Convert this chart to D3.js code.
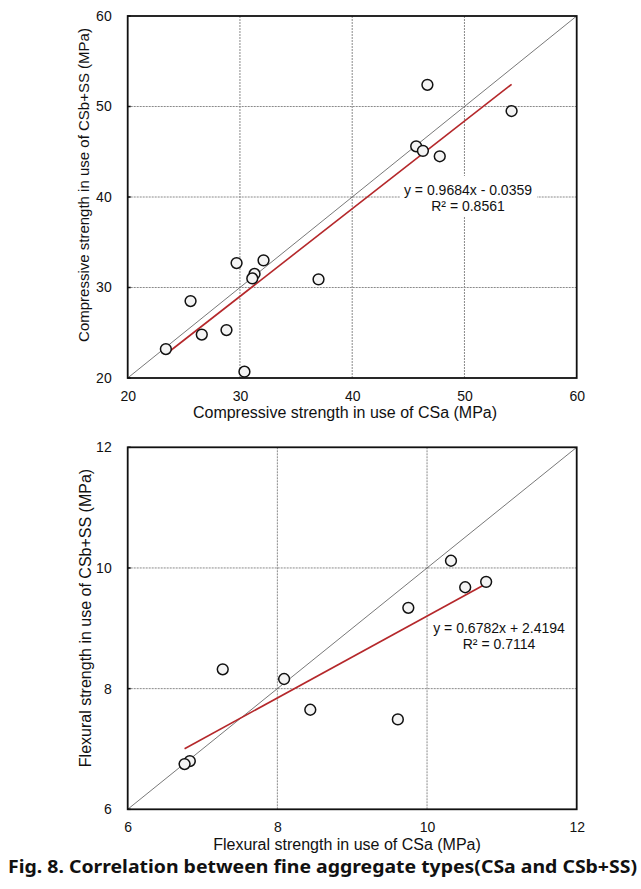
<!DOCTYPE html>
<html>
<head>
<meta charset="utf-8">
<script src="https://cdn.jsdelivr.net/npm/d3@7"></script>
<style>
  html, body { margin: 0; padding: 0; background: #fff; }
  svg text { fill: #111; }
</style>
</head>
<body>
<svg id="chart" width="641" height="889"></svg>
<script>
// ---- Data: compressive strength (MPa) ----
const compCSa    = [46.7, 54.2, 45.7, 46.3, 47.8, 29.7, 32.1, 31.3, 31.1, 37.0, 25.6, 28.8, 26.6, 23.4, 30.4];
const compCSbSS  = [52.4, 49.5, 45.6, 45.1, 44.5, 32.7, 33.0, 31.5, 31.0, 30.9, 28.5, 25.3, 24.8, 23.2, 20.7];
const compTicks  = [20, 30, 40, 50, 60];
const compFit    = { slope: 0.9684, intercept: -0.0359 };
const compEqText = ["y = 0.9684x - 0.0359", "R² = 0.8561"];

// ---- Data: flexural strength (MPa) ----
const flexCSa    = [10.32, 10.79, 10.51, 9.75, 7.27, 8.09, 8.44, 9.61, 6.83, 6.76];
const flexCSbSS  = [10.12, 9.77, 9.68, 9.34, 8.32, 8.16, 7.65, 7.49, 6.80, 6.75];
const flexTicks  = [6, 8, 10, 12];
const flexFit    = { slope: 0.6782, intercept: 2.4194 };
const flexEqText = ["y = 0.6782x + 2.4194", "R² = 0.7114"];

const caption = "Fig. 8. Correlation between fine aggregate types(CSa and CSb+SS)";

const FONT = "'Liberation Sans', Arial, sans-serif";
const svg = d3.select("#chart");

function panel(cfg) {
  const g = svg.append("g");
  const x = d3.scaleLinear().domain(cfg.domain).range([cfg.left, cfg.right]);
  const y = d3.scaleLinear().domain(cfg.domain).range([cfg.bottom, cfg.top]);

  // gridlines
  const inner = cfg.ticks.slice(1, -1);
  g.selectAll(".gx").data(inner).enter().append("line")
    .attr("x1", d => x(d)).attr("x2", d => x(d))
    .attr("y1", cfg.top).attr("y2", cfg.bottom)
    .attr("stroke", "#8a8a8a").attr("stroke-width", 1).attr("stroke-dasharray", "2,1");
  g.selectAll(".gy").data(inner).enter().append("line")
    .attr("y1", d => y(d)).attr("y2", d => y(d))
    .attr("x1", cfg.left).attr("x2", cfg.right)
    .attr("stroke", "#8a8a8a").attr("stroke-width", 1).attr("stroke-dasharray", "2,1");

  // y=x diagonal
  g.append("line")
    .attr("x1", x(cfg.domain[0])).attr("y1", y(cfg.domain[0]))
    .attr("x2", x(cfg.domain[1])).attr("y2", y(cfg.domain[1]))
    .attr("stroke", "#555").attr("stroke-width", 0.8);

  // regression line over data range
  const xmin = d3.min(cfg.xs), xmax = d3.max(cfg.xs);
  const f = v => cfg.fit.slope * v + cfg.fit.intercept;
  g.append("line")
    .attr("x1", x(xmin)).attr("y1", y(f(xmin)))
    .attr("x2", x(xmax)).attr("y2", y(f(xmax)))
    .attr("stroke", "#b5282b").attr("stroke-width", 1.6);

  // equation label
  if (cfg.labelBox) {
    g.append("rect")
      .attr("x", cfg.labelBox[0]).attr("y", cfg.labelBox[1])
      .attr("width", cfg.labelBox[2]).attr("height", cfg.labelBox[3])
      .attr("fill", "#fff");
  }
  g.selectAll(".eq").data(cfg.eq).enter().append("text")
    .attr("x", cfg.labelX).attr("y", (d, i) => cfg.labelY + i * 16)
    .attr("text-anchor", "middle").attr("dominant-baseline", "central")
    .style("font-family", FONT).style("font-size", "14px").text(d => d);

  // points
  g.selectAll(".pt").data(cfg.xs.map((v, i) => [v, cfg.ys[i]])).enter().append("circle")
    .attr("cx", d => x(d[0])).attr("cy", d => y(d[1])).attr("r", 5.4)
    .attr("fill", "#f4f4f4").attr("stroke", "#111").attr("stroke-width", 1.5);

  // frame
  g.append("rect")
    .attr("x", cfg.left).attr("y", cfg.top)
    .attr("width", cfg.right - cfg.left).attr("height", cfg.bottom - cfg.top)
    .attr("fill", "none").attr("stroke", "#111").attr("stroke-width", 1.8);

  // axes
  const fmt = d3.format("d");
  const xAxis = d3.axisBottom(x).tickValues(cfg.ticks).tickFormat(fmt).tickSize(0).tickPadding(0);
  const yAxis = d3.axisLeft(y).tickValues(cfg.ticks).tickFormat(fmt).tickSize(0).tickPadding(0);
  const gx = g.append("g").attr("transform", `translate(0,${cfg.bottom})`).call(xAxis);
  gx.select(".domain").remove();
  gx.selectAll("text").style("font-size", "14px").style("font-family", FONT)
    .attr("y", cfg.xTickDy).attr("dy", "0.35em").attr("fill", "#111");
  const gy = g.append("g").attr("transform", `translate(${cfg.left},0)`).call(yAxis);
  gy.select(".domain").remove();
  gy.selectAll("text").style("font-size", "14px").style("font-family", FONT)
    .attr("x", -16).attr("fill", "#111");
  // small inward tick marks on y axis
  g.selectAll(".yt").data(cfg.ticks).enter().append("line")
    .attr("x1", cfg.left).attr("x2", cfg.left + 3)
    .attr("y1", d => y(d)).attr("y2", d => y(d))
    .attr("stroke", "#111").attr("stroke-width", 1.5);

  // axis titles
  g.append("text")
    .attr("x", cfg.xTitleX).attr("y", cfg.xTitleY)
    .attr("text-anchor", "middle").attr("dominant-baseline", "central")
    .style("font-family", FONT).style("font-size", "16px").text(cfg.xTitle);
  g.append("text")
    .attr("transform", `translate(${cfg.yTitleX},${cfg.yTitleY}) rotate(-90)`)
    .attr("text-anchor", "middle").attr("dominant-baseline", "central")
    .style("font-family", FONT).style("font-size", cfg.yTitleSize + "px").text(cfg.yTitle);
}

panel({
  domain: [20, 60], ticks: compTicks,
  left: 127.7, right: 576.7, top: 16, bottom: 378,
  xs: compCSa, ys: compCSbSS, fit: compFit, eq: compEqText,
  labelX: 468, labelY: 190, labelBox: [400, 176, 137, 40],
  xTickDy: 18,
  xTitle: "Compressive  strength in use of CSa (MPa)", xTitleX: 345, xTitleY: 412,
  yTitle: "Compressive strength in use of CSb+SS (MPa)", yTitleX: 83, yTitleY: 185, yTitleSize: 15
});

panel({
  domain: [6, 12], ticks: flexTicks,
  left: 127.7, right: 576.7, top: 447.3, bottom: 809.3,
  xs: flexCSa, ys: flexCSbSS, fit: flexFit, eq: flexEqText,
  labelX: 499, labelY: 628, labelBox: null,
  xTickDy: 18,
  xTitle: "Flexural strength in use of CSa (MPa)", xTitleX: 347, xTitleY: 844,
  yTitle: "Flexural strength in use of CSb+SS (MPa)", yTitleX: 85, yTitleY: 618, yTitleSize: 16
});

svg.append("text")
  .attr("x", 8).attr("y", 873)
  .style("font-family", "'Noto Sans', 'Open Sans', sans-serif")
  .style("font-weight", "bold").style("font-size", "18px")
  .attr("textLength", 629).attr("lengthAdjust", "spacingAndGlyphs")
  .text(caption);
</script>
</body>
</html>
